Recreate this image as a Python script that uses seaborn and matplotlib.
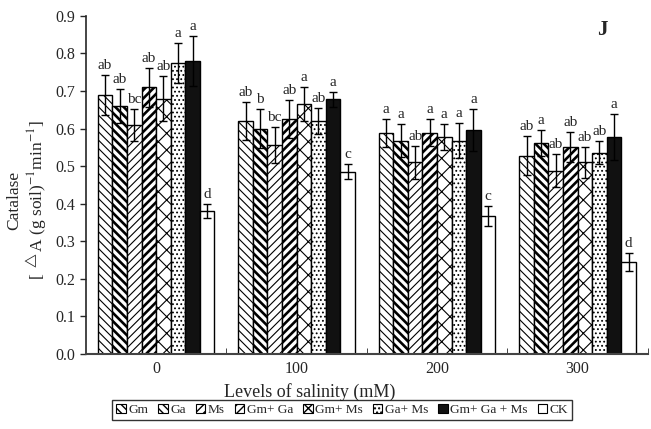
import matplotlib
matplotlib.use("Agg")
import matplotlib.pyplot as plt
import seaborn as sns
import pandas as pd
import numpy as np
from matplotlib.patches import Patch

salinity = ["0", "100", "200", "300"]
treatments = ["Gm", "Ga", "Ms", "Gm+ Ga", "Gm+ Ms", "Ga+ Ms", "Gm+ Ga + Ms", "CK"]

means = {
    "Gm":          [0.689, 0.620, 0.589, 0.528],
    "Ga":          [0.660, 0.600, 0.568, 0.562],
    "Ms":          [0.610, 0.556, 0.510, 0.488],
    "Gm+ Ga":      [0.710, 0.625, 0.589, 0.551],
    "Gm+ Ms":      [0.680, 0.665, 0.577, 0.510],
    "Ga+ Ms":      [0.775, 0.620, 0.568, 0.536],
    "Gm+ Ga + Ms": [0.780, 0.678, 0.596, 0.577],
    "CK":          [0.380, 0.485, 0.367, 0.245],
}
errors = {
    "Gm":          [0.053, 0.050, 0.037, 0.052],
    "Ga":          [0.045, 0.052, 0.043, 0.034],
    "Ms":          [0.043, 0.047, 0.043, 0.043],
    "Gm+ Ga":      [0.052, 0.050, 0.036, 0.041],
    "Gm+ Ms":      [0.060, 0.045, 0.034, 0.041],
    "Ga+ Ms":      [0.053, 0.035, 0.046, 0.031],
    "Gm+ Ga + Ms": [0.067, 0.020, 0.056, 0.062],
    "CK":          [0.018, 0.020, 0.027, 0.023],
}
letters = {
    "Gm":          ["ab", "ab", "a", "ab"],
    "Ga":          ["ab", "b", "a", "a"],
    "Ms":          ["bc", "bc", "ab", "ab"],
    "Gm+ Ga":      ["ab", "ab", "a", "ab"],
    "Gm+ Ms":      ["ab", "a", "a", "ab"],
    "Ga+ Ms":      ["a", "ab", "a", "ab"],
    "Gm+ Ga + Ms": ["a", "a", "a", "a"],
    "CK":          ["d", "c", "c", "d"],
}

hatches = ["\\\\\\\\", "\\\\\\\\", "////", "////", "xx", "....", None, None]
faces = ["white", "white", "white", "white", "white", "white", "#111111", "white"]
hatch_lw = [0.8, 1.9, 0.8, 1.9, 0.8, 0.8, 0.8, 0.8]

rows = []
for t in treatments:
    for i, s in enumerate(salinity):
        rows.append({"salinity": s, "treatment": t, "value": means[t][i]})
df = pd.DataFrame(rows)

sns.set_style("ticks")
plt.rcParams["font.family"] = ["Liberation Serif", "DejaVu Serif"]
plt.rcParams["mathtext.fontset"] = "stix"
plt.rcParams["hatch.color"] = "black"


def set_hlw(p, lw):
    try:
        p.set_hatch_linewidth(lw)
    except Exception:
        pass
    try:
        p._hatch_linewidth = lw
    except Exception:
        pass


fig = plt.figure(figsize=(6.51, 4.29), dpi=100)
ax = fig.add_axes([0.132, 0.175, 0.863, 0.788])

sns.barplot(data=df, x="salinity", y="value", hue="treatment", hue_order=treatments,
            order=salinity, palette=["white"] * 8, width=0.83, gap=0, errorbar=None,
            edgecolor="black", linewidth=1.0, ax=ax, legend=False)

handles = []
for k, (t, cont) in enumerate(zip(treatments, ax.containers)):
    for i, bar in enumerate(cont):
        bar.set_facecolor(faces[k])
        bar.set_edgecolor("black")
        if hatches[k]:
            bar.set_hatch(hatches[k])
            set_hlw(bar, hatch_lw[k])
        cx = bar.get_x() + bar.get_width() / 2
        h = bar.get_height()
        e = errors[t][i]
        ax.errorbar(cx, h, yerr=e, fmt="none", ecolor="black", elinewidth=1.0,
                    capsize=3.2, capthick=1.0)
        ax.text(cx, h + e + 0.008, letters[t][i], ha="center", va="bottom", fontsize=11)
    hp = Patch(facecolor=faces[k], edgecolor="black", hatch=hatches[k], linewidth=0.8, label=t)
    if hatches[k]:
        set_hlw(hp, hatch_lw[k] * 0.7)
    handles.append(hp)

ax.set_ylim(0, 0.9)
ax.set_xlim(-0.5, 3.5)
ax.set_yticks(np.arange(0, 0.91, 0.1))
ax.set_yticklabels([f"{v:.1f}" for v in np.arange(0, 0.91, 0.1)], fontsize=11.5)
ax.set_xticks(range(4))
ax.set_xticklabels(salinity, fontsize=11.5)
ax.tick_params(axis="x", which="major", length=0, pad=5)
ax.set_xticks([0.5, 1.5, 2.5, 3.5], minor=True)
ax.tick_params(axis="x", which="minor", direction="in", length=4)
ax.tick_params(axis="y", direction="out", length=4, width=1)
sns.despine(ax=ax)
ax.spines["left"].set_linewidth(1.2)
ax.spines["bottom"].set_linewidth(1.5)
ax.spines["bottom"].set_color("#444444")

ax.set_xlabel("Levels of salinity (mM)", fontsize=13)
ax.xaxis.set_label_coords(0.399, -0.085)
ax.set_ylabel("Catalase\n[ $^{\\triangle}$A (g soil)$^{-1}$min$^{-1}$]", fontsize=12.5,
              linespacing=1.15)
ax.yaxis.set_label_coords(-0.066, 0.455)

fig.text(0.925, 0.93, "J", fontsize=15, fontweight="bold", ha="center", va="center")

leg = fig.legend(handles=handles, loc="upper center", bbox_to_anchor=(0.526, 0.068),
                 ncol=8, frameon=True, fancybox=False, edgecolor="black",
                 fontsize=9.6, handlelength=0.7, handleheight=0.7, handletextpad=0.2,
                 columnspacing=0.75, borderpad=0.3, borderaxespad=0)
leg.get_frame().set_linewidth(1.0)

fig.savefig("out.png", dpi=100)
